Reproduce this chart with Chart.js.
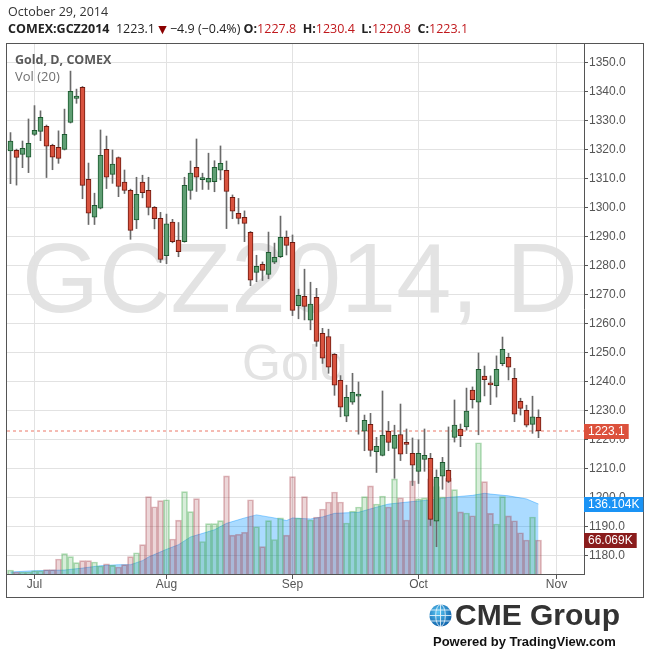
<!DOCTYPE html>
<html>
<head>
<meta charset="utf-8">
<script src="https://cdn.jsdelivr.net/npm/chart.js@4.4.1/dist/chart.umd.min.js"></script>
<style>
html,body{margin:0;padding:0;background:#fff;}
body{width:650px;height:652px;position:relative;overflow:hidden;font-family:'Open Sans',sans-serif;}
#wrap{position:absolute;left:0;top:0;width:650px;height:652px;z-index:1;}
.abs{position:absolute;white-space:nowrap;}
.wm{z-index:0;color:#e3e3e3;font-family:'Liberation Sans',Arial,sans-serif;line-height:1;}
.txt{z-index:2;line-height:16px;}
.r{color:#c0181c;}
</style>
</head>
<body>
<div class="abs wm" style="left:22px;top:228px;font-size:99px;">GCZ2014, D</div>
<div class="abs wm" style="left:242px;top:338px;font-size:50px;">Gold</div>
<div id="wrap"><canvas id="c"></canvas></div>
<div class="abs txt" id="h1" style="left:8px;top:4px;font-size:12.5px;color:#333;"></div>
<div class="abs txt" id="h2" style="left:8px;top:21px;font-size:12.5px;color:#222;"></div>
<div class="abs txt" style="left:15px;top:52px;font-size:12.5px;font-weight:bold;color:#5a5a5a;">Gold, D, COMEX</div>
<div class="abs txt" style="left:15px;top:68px;font-size:13px;color:#707070;">Vol (20)</div>
<svg class="abs" style="left:429px;top:604px;z-index:2" width="23" height="23" viewBox="0 0 23 23">
<defs><radialGradient id="gg" cx="40%" cy="35%" r="70%"><stop offset="0" stop-color="#5cc8f5"/><stop offset="1" stop-color="#0b5ea8"/></radialGradient></defs>
<circle cx="11.5" cy="11.5" r="11" fill="url(#gg)"/>
<g stroke="#fff" stroke-width="0.9" fill="none" opacity="0.85">
<ellipse cx="11.5" cy="11.5" rx="4.8" ry="11"/>
<line x1="11.5" y1="0.5" x2="11.5" y2="22.5"/>
<line x1="0.5" y1="11.5" x2="22.5" y2="11.5"/>
<line x1="2" y1="6" x2="21" y2="6"/>
<line x1="2" y1="17" x2="21" y2="17"/>
</g>
</svg>
<div class="abs" style="left:455px;top:600px;font:bold 30px 'Liberation Sans',Arial,sans-serif;line-height:1;color:#333;z-index:2;">CME Group</div>
<div class="abs" style="left:433px;top:635px;font:bold 13px 'Liberation Sans',Arial,sans-serif;line-height:1;color:#111;z-index:2;">Powered by TradingView.com</div>
<script>
// ---------- data ----------
const dates = [
'Jun 25','Jun 26','Jun 27','Jun 30',
'Jul 1','Jul 2','Jul 3','Jul 7','Jul 8','Jul 9','Jul 10','Jul 11','Jul 14','Jul 15','Jul 16','Jul 17','Jul 18','Jul 21','Jul 22','Jul 23','Jul 24','Jul 25','Jul 28','Jul 29','Jul 30','Jul 31',
'Aug 1','Aug 4','Aug 5','Aug 6','Aug 7','Aug 8','Aug 11','Aug 12','Aug 13','Aug 14','Aug 15','Aug 18','Aug 19','Aug 20','Aug 21','Aug 22','Aug 25','Aug 26','Aug 27','Aug 28','Aug 29',
'Sep 2','Sep 3','Sep 4','Sep 5','Sep 8','Sep 9','Sep 10','Sep 11','Sep 12','Sep 15','Sep 16','Sep 17','Sep 18','Sep 19','Sep 22','Sep 23','Sep 24','Sep 25','Sep 26','Sep 29','Sep 30',
'Oct 1','Oct 2','Oct 3','Oct 6','Oct 7','Oct 8','Oct 9','Oct 10','Oct 13','Oct 14','Oct 15','Oct 16','Oct 17','Oct 20','Oct 21','Oct 22','Oct 23','Oct 24','Oct 27','Oct 28','Oct 29'
];
const open = [
1319.7,1319.9,1318.5,1317.5,1325.4,1326.4,1328.2,1321.6,1320.9,1320.2,
1329.5,1337.8,1341.6,1309.9,1296.8,1299.9,1320.2,1311.6,1317.4,1308.9,
1306.1,1295.9,1308.9,1306.1,1300.2,1296.4,1283.6,1295.1,1288.9,1288.4,
1306.1,1314.0,1309.8,1308.9,1309.1,1313.0,1313.0,1303.7,1298.2,1296.8,
1291.6,1277.8,1280.6,1277.1,1281.3,1283.2,1289.9,1288.2,1266.3,1269.5,
1261.3,1269.2,1256.8,1255.7,1249.5,1240.6,1228.2,1233.0,1235.1,1223.0,
1225.4,1216.0,1214.7,1223.0,1217.1,1221.9,1218.8,1215.4,1209.2,1213.3,
1213.7,1192.0,1207.5,1209.5,1220.9,1223.8,1224.5,1237.2,1233.0,1242.0,
1239.2,1238.7,1246.3,1248.5,1241.3,1233.3,1230.2,1225.4,1227.8];
const high = [
1326.0,1320.3,1323.1,1330.7,1335.3,1333.5,1328.6,1322.0,1326.6,1334.1,
1347.2,1341.0,1341.9,1315.5,1305.1,1326.9,1324.8,1320.0,1317.6,1313.1,
1306.5,1310.6,1311.3,1310.6,1300.5,1298.5,1297.9,1296.1,1295.0,1310.6,
1316.2,1323.8,1312.0,1318.9,1316.3,1321.4,1316.2,1304.5,1303.3,1299.0,
1291.9,1283.7,1281.4,1291.7,1287.9,1297.2,1292.1,1290.7,1272.0,1278.9,
1274.4,1272.3,1258.5,1258.2,1249.8,1242.2,1238.9,1243.0,1240.0,1228.6,
1229.2,1220.9,1236.9,1226.4,1225.1,1232.4,1223.8,1220.7,1220.1,1223.8,
1215.4,1209.7,1214.0,1224.5,1233.8,1225.5,1237.9,1238.3,1250.0,1245.5,
1242.1,1249.0,1255.5,1249.9,1244.7,1234.4,1232.0,1235.1,1230.4];
const low = [
1308.4,1307.9,1313.9,1312.2,1325.0,1323.2,1310.5,1313.2,1315.4,1320.0,
1329.3,1336.1,1303.2,1294.3,1294.3,1299.7,1306.7,1308.5,1303.9,1305.0,
1289.2,1292.9,1303.5,1297.6,1292.8,1281.2,1280.8,1288.0,1283.2,1288.2,
1303.0,1305.7,1306.4,1306.4,1305.6,1309.7,1292.9,1296.3,1294.5,1288.4,
1273.2,1274.6,1275.0,1275.6,1280.8,1282.9,1283.8,1262.9,1261.8,1261.4,
1258.0,1252.3,1246.4,1243.0,1235.4,1228.0,1226.3,1232.3,1222.0,1216.3,
1214.4,1208.8,1214.5,1216.3,1206.8,1212.9,1215.3,1204.3,1205.0,1209.2,
1190.5,1183.2,1203.0,1205.3,1219.3,1217.7,1223.4,1231.0,1221.8,1235.2,
1232.2,1234.8,1245.6,1240.7,1226.3,1228.6,1224.5,1222.3,1220.8];
const close = [
1323.1,1317.4,1320.6,1322.3,1326.8,1331.3,1321.3,1317.5,1317.1,1325.4,
1340.2,1338.6,1307.8,1298.2,1300.9,1318.2,1310.6,1315.1,1307.4,1306.1,
1292.3,1304.7,1305.3,1300.2,1296.3,1282.3,1294.5,1288.4,1284.9,1307.8,
1312.0,1310.6,1310.1,1310.2,1314.0,1315.4,1305.7,1298.9,1296.4,1294.7,
1275.1,1279.9,1278.5,1284.7,1283.0,1289.9,1287.1,1264.7,1269.9,1266.1,
1266.9,1254.0,1248.2,1245.1,1238.9,1231.3,1234.7,1236.4,1235.7,1226.8,
1216.4,1217.8,1221.6,1219.2,1221.6,1215.1,1218.5,1211.3,1215.4,1214.7,
1192.6,1207.1,1212.3,1205.7,1225.1,1221.5,1230.0,1233.9,1244.4,1240.8,
1239.0,1244.4,1251.3,1245.1,1228.9,1230.9,1225.1,1228.0,1223.1];
// volume in thousands of contracts
const volume = [
7.7,3.9,3.9,3.9,6.4,6.4,8.4,8.4,29.2,39.5,
33.7,22.0,25.9,25.9,23.3,15.6,20.0,16.8,13.6,18.1,
33.7,41.4,57.0,150.4,130.9,142.6,144.5,68.1,104.9,160.1,
121.2,146.5,63.2,97.9,97.9,103.7,191.0,75.5,77.4,81.3,
144.5,92.0,53.1,103.7,67.1,109.5,75.5,189.3,109.0,150.4,
105.1,110.9,126.5,140.1,159.5,140.1,99.2,122.6,130.4,150.4,
171.5,136.2,151.7,130.4,185.0,148.4,105.1,181.0,146.2,148.2,
185.0,170.0,150.0,186.0,164.0,121.0,118.6,113.4,255.4,179.6,
117.9,97.3,150.4,113.2,103.5,80.3,66.1,110.9,66.069];
// Vol(20) average (bar index, thousands)
const volMaIdx = [0,4,9,12,15,18,20,22,23,26,28,30,34,36,39,41,44,46,47,50,52,54,58,61,63,67,70,73,77,79,80,83,86,88];
const volMaVal = [3.9,6.4,7.7,11.5,16.1,18.1,18.1,26.0,33.0,48.0,57.0,72.0,86.0,98.5,109.0,115.0,109.0,104.0,109.0,107.0,111.0,118.0,120.0,130.0,136.0,141.0,144.0,149.0,153.0,157.0,155.5,152.0,146.0,136.104];
const monthTickIdx = [4,26,47,68,91];
const monthTickLabels = ['Jul','Aug','Sep','Oct','Nov'];
const priceTicks = [1180,1190,1200,1210,1220,1230,1240,1250,1260,1270,1280,1290,1300,1310,1320,1330,1340,1350];
const symbol = 'COMEX:GCZ2014';
const headerDate = 'October 29, 2014';
const prevSettle = 1228.0;

// ---------- header ----------
const L = dates.length - 1;
const chg = close[L] - prevSettle;
const pct = chg / prevSettle * 100;
const fmt = v => (v < 0 ? '\u2212' : '') + Math.abs(v).toFixed(1);
document.getElementById('h1').textContent = headerDate;
document.getElementById('h2').innerHTML =
  '<b>' + symbol + '</b>&nbsp; ' + close[L].toFixed(1) +
  ' <span style="color:#8b0000;font-family:DejaVu Sans;font-size:11px">\u25BC</span> ' +
  fmt(chg) + ' (' + fmt(pct) + '%) ' +
  '<b>O:</b><span class="r">' + open[L].toFixed(1) + '</span>&nbsp; ' +
  '<b>H:</b><span class="r">' + high[L].toFixed(1) + '</span>&nbsp; ' +
  '<b>L:</b><span class="r">' + low[L].toFixed(1) + '</span>&nbsp; ' +
  '<b>C:</b><span class="r">' + close[L].toFixed(1) + '</span>';

// ---------- chart ----------
Chart.defaults.font.family = "'Liberation Sans', Arial, sans-serif";
const idx = dates.map((d, i) => i);
const up = i => close[i] >= open[i];
const xMin = -0.5833, xMax = 95.5833;
const pMin = 1173.79, pMax = 1356.55;

const bodies = idx.map(i => ({x: i, y: [open[i], close[i]]}));
const wicks = idx.map(i => ({x: i, y: [low[i], high[i]]}));
const vols = idx.map(i => ({x: i, y: volume[i]}));
const ma = volMaIdx.map((x, k) => ({x: x, y: volMaVal[k]}));

const framePlugin = {
  id: 'frame',
  afterDraw(chart) {
    const c = chart.ctx;
    c.save();
    c.strokeStyle = '#555';
    c.lineWidth = 1;
    c.strokeRect(6.5, 43.5, 637, 554);
    // value badges on the price axis
    const x0 = chart.chartArea.right;
    const badge = (y, text, color) => {
      c.font = "12px 'Liberation Sans', Arial, sans-serif";
      const w = c.measureText(text).width + 8;
      c.fillStyle = color;
      c.fillRect(x0, Math.round(y) - 7, w, 15);
      c.fillStyle = '#fff';
      c.textBaseline = 'middle';
      c.textAlign = 'left';
      c.fillText(text, x0 + 4, Math.round(y) + 1);
    };
    const ys = chart.scales.y, yv = chart.scales.yv;
    badge(ys.getPixelForValue(close[L]), close[L].toFixed(1), '#dc513c');
    badge(yv.getPixelForValue(volMaVal[volMaVal.length - 1]), volMaVal[volMaVal.length - 1].toFixed(3) + 'K', '#1a93f5');
    badge(yv.getPixelForValue(volume[L]), volume[L].toFixed(3) + 'K', '#8a1c1c');
    c.restore();
  }
};

new Chart(document.getElementById('c'), {
  type: 'bar',
  data: {
    datasets: [
      {
        type: 'bar', label: 'body', data: bodies, yAxisID: 'y', order: 0, grouped: false,
        barThickness: 5, minBarLength: 2, borderWidth: 1, borderSkipped: false,
        backgroundColor: c => up(c.dataIndex) ? '#5f9e73' : '#d9533f',
        borderColor: c => up(c.dataIndex) ? '#1c5a2f' : '#6e1a10'
      },
      {
        type: 'bar', label: 'wick', data: wicks, yAxisID: 'y', order: 1, grouped: false,
        barThickness: 1, borderWidth: 0, backgroundColor: '#6a6a6a'
      },
      {
        type: 'line', label: 'last', data: [{x: xMin, y: close[L]}, {x: xMax, y: close[L]}],
        yAxisID: 'y', order: 2, borderColor: 'rgba(232,95,75,0.85)', borderDash: [3, 3],
        borderWidth: 1, pointRadius: 0, fill: false
      },
      {
        type: 'bar', label: 'volume', data: vols, yAxisID: 'yv', order: 3, grouped: false,
        barThickness: 6, borderWidth: 1,
        backgroundColor: c => up(c.dataIndex) ? 'rgba(60,165,70,0.2)' : 'rgba(160,50,60,0.2)',
        borderColor: c => up(c.dataIndex) ? 'rgba(60,165,70,0.4)' : 'rgba(160,50,60,0.35)'
      },
      {
        type: 'line', label: 'Vol (20)', data: ma, yAxisID: 'yv', order: 4,
        fill: 'origin', backgroundColor: 'rgba(0,145,255,0.33)', borderColor: 'rgba(0,145,255,0.4)',
        borderWidth: 1, pointRadius: 0, tension: 0
      }
    ]
  },
  options: {
    responsive: true,
    maintainAspectRatio: false,
    animation: false,
    events: [],
    layout: {padding: {left: 7, top: 44, right: 7, bottom: 55}},
    plugins: {legend: {display: false}, tooltip: {enabled: false}},
    scales: {
      x: {
        type: 'linear', position: 'bottom', min: xMin, max: xMax, offset: false,
        grid: {color: '#e2e2e2', offset: false, drawTicks: true, tickLength: 5, tickColor: '#555'},
        border: {display: true, color: '#555'},
        ticks: {
          autoSkip: false, maxRotation: 0, padding: -2, color: '#555', font: {size: 12},
          callback: v => { const k = monthTickIdx.indexOf(v); return k >= 0 ? monthTickLabels[k] : ''; }
        },
        afterBuildTicks: s => { s.ticks = monthTickIdx.map(v => ({value: v})); },
        afterFit: s => { s.height = 23; }
      },
      y: {
        type: 'linear', position: 'right', min: pMin, max: pMax,
        grid: {color: '#e2e2e2', drawTicks: true, tickLength: 4, tickColor: '#555'},
        border: {display: true, color: '#555'},
        ticks: {padding: 1, color: '#555', font: {size: 12}, callback: v => Number(v).toFixed(1)},
        afterBuildTicks: s => { s.ticks = priceTicks.map(v => ({value: v})); },
        afterFit: s => { s.width = 59; }
      },
      yv: {type: 'linear', display: false, min: 0, max: 1031}
    }
  },
  plugins: [framePlugin]
});
</script>
</body>
</html>
